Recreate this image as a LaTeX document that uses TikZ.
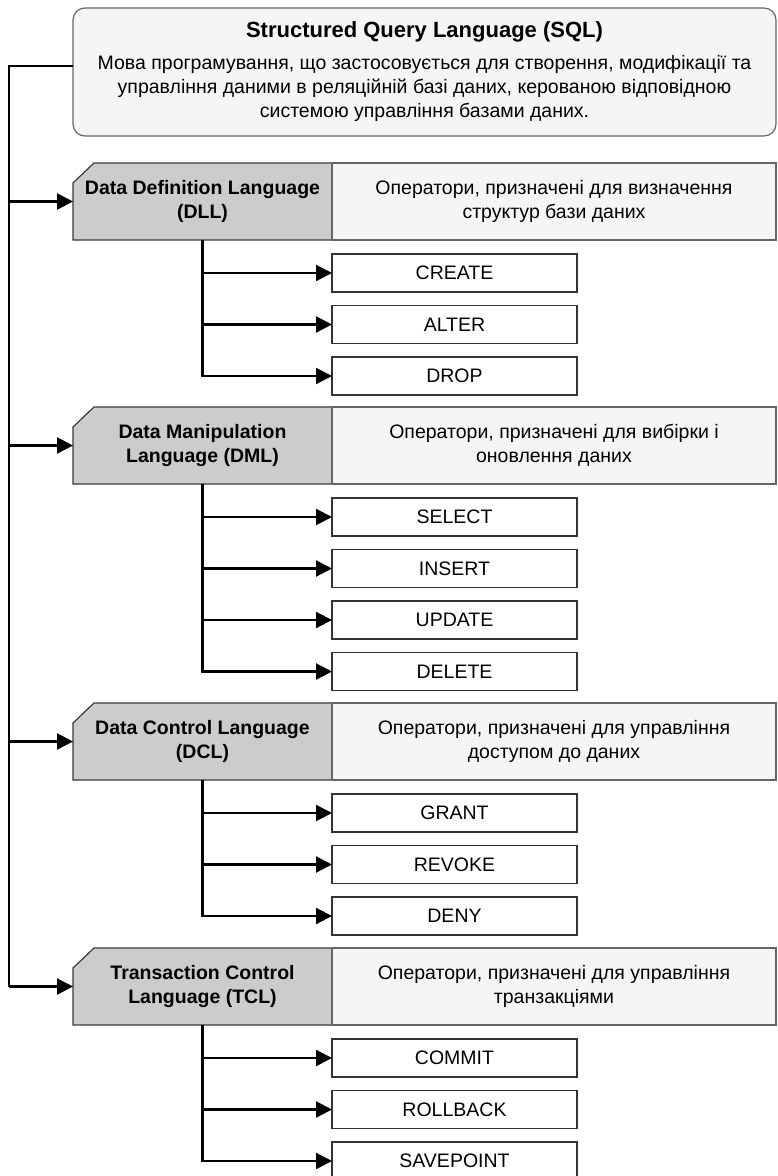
\documentclass[tikz,border=0pt]{standalone}
\usepackage{fontspec}
\setmainfont{Liberation Sans}
\usetikzlibrary{arrows.meta,positioning,backgrounds}

\definecolor{panel}{HTML}{F5F5F5}
\definecolor{panelline}{HTML}{666666}
\definecolor{langfill}{HTML}{CCCCCC}
\definecolor{langline}{HTML}{36393D}
\definecolor{cmdline}{HTML}{333333}

\begin{document}
\begin{tikzpicture}[x=1pt, y=-1pt, >={Triangle[length=16pt,width=16pt]},
  every node/.style={outer sep=0pt, font=\fontsize{19.5}{24}\selectfont},
  head/.style={draw=panelline, fill=panel, rounded corners=12pt, line width=1.2pt,
    minimum width=703pt, minimum height=128pt, align=center},
  lang/.style={minimum width=259pt, minimum height=77pt, align=center,
    font=\fontsize{19.5}{24}\selectfont\bfseries},
  langbox/.style={draw=langline, fill=langfill, line width=1.2pt},
  note/.style={draw=panelline, fill=panel, line width=1.2pt,
    minimum width=444pt, minimum height=77pt, align=center},
  cmd/.style={draw=cmdline, fill=white, line width=1.2pt,
    minimum width=245pt, minimum height=38pt},
  link/.style={line width=2.2pt}]
\useasboundingbox (0,0) rectangle (777,1176);

\node[head] (sql) at (424.5,72) {{\fontsize{22}{24}\selectfont\bfseries Structured Query Language (SQL)}\\[8pt]
  Мова програмування, що застосовується для створення, модифікації та\\
  управління даними в реляційній базі даних, керованою відповідною\\
  системою управління базами даних.};

% DDL
\node[lang] (ddl) at (202.5,201.5) {Data Definition Language\\(DLL)};
\node[note, right=0pt of ddl] (ddlnote) {Оператори, призначені для визначення\\структур бази даних};
\node[cmd, below right=14pt and 0pt of ddl.south east] (create) {CREATE};
\node[cmd, below=13.5pt of create] (alter) {ALTER};
\node[cmd, below=13.5pt of alter] (drop) {DROP};

% DML
\node[lang, below left=12pt and 0pt of drop.south west] (dml) {Data Manipulation\\Language (DML)};
\node[note, right=0pt of dml] (dmlnote) {Оператори, призначені для вибірки і\\оновлення даних};
\node[cmd, below right=14pt and 0pt of dml.south east] (select) {SELECT};
\node[cmd, below=13.5pt of select] (insert) {INSERT};
\node[cmd, below=13.5pt of insert] (update) {UPDATE};
\node[cmd, below=13.5pt of update] (delete) {DELETE};

% DCL
\node[lang, below left=12.5pt and 0pt of delete.south west] (dcl) {Data Control Language\\(DCL)};
\node[note, right=0pt of dcl] (dclnote) {Оператори, призначені для управління\\доступом до даних};
\node[cmd, below right=14pt and 0pt of dcl.south east] (grant) {GRANT};
\node[cmd, below=13.5pt of grant] (revoke) {REVOKE};
\node[cmd, below=13.5pt of revoke] (deny) {DENY};

% TCL
\node[lang, below left=13pt and 0pt of deny.south west] (tcl) {Transaction Control\\Language (TCL)};
\node[note, right=0pt of tcl] (tclnote) {Оператори, призначені для управління\\транзакціями};
\node[cmd, below right=14pt and 0pt of tcl.south east] (commit) {COMMIT};
\node[cmd, below=13.5pt of commit] (rollback) {ROLLBACK};
\node[cmd, below=13.5pt of rollback] (savepoint) {SAVEPOINT};

% grey group boxes with the cut corner
\begin{scope}[on background layer]
\foreach \g in {ddl,dml,dcl,tcl}
  \filldraw[langbox] (\g.south west) -- ([yshift=-20pt]\g.north west)
    -- ([xshift=21pt]\g.north west) -- (\g.north east) -- (\g.south east) -- cycle;
\end{scope}

% main rail on the left
\coordinate (rail) at (9,0);
\draw[link] (sql.179) -| (rail |- tcl.west);
\draw[link, ->] (rail |- ddl.west) -- (ddl.west);
\draw[link, ->] (rail |- dml.west) -- (dml.west);
\draw[link, ->] (rail |- dcl.west) -- (dcl.west);
\draw[link, ->] (rail |- tcl.west) -- (tcl.west);

% statements of each group
\draw[link, ->] (ddl.south) |- (create.west);
\draw[link, ->] (ddl.south) |- (alter.west);
\draw[link, ->] (ddl.south) |- (drop.west);
\draw[link, ->] (dml.south) |- (select.west);
\draw[link, ->] (dml.south) |- (insert.west);
\draw[link, ->] (dml.south) |- (update.west);
\draw[link, ->] (dml.south) |- (delete.west);
\draw[link, ->] (dcl.south) |- (grant.west);
\draw[link, ->] (dcl.south) |- (revoke.west);
\draw[link, ->] (dcl.south) |- (deny.west);
\draw[link, ->] (tcl.south) |- (commit.west);
\draw[link, ->] (tcl.south) |- (rollback.west);
\draw[link, ->] (tcl.south) |- (savepoint.west);
\end{tikzpicture}
\end{document}
